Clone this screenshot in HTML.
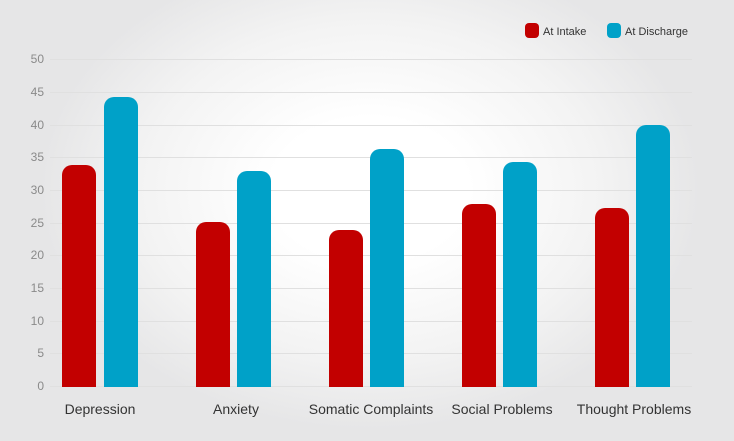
<!DOCTYPE html>
<html><head><meta charset="utf-8"><style>
body{margin:0;}
#c{width:734px;height:441px;position:relative;overflow:hidden;
background:radial-gradient(ellipse 330px 240px at 370px 190px,#fff 30%,#f3f3f3 70%,#e6e6e7 100%);
font-family:"Liberation Sans",sans-serif;}
</style></head><body><div id="c">
<svg width="734" height="441" style="position:absolute;left:0;top:0">
<g stroke="#e0e0e0" stroke-width="1">
<line x1="50" x2="692" y1="59.5" y2="59.5"/><line x1="50" x2="692" y1="92.5" y2="92.5"/>
<line x1="50" x2="692" y1="125.5" y2="125.5"/><line x1="50" x2="692" y1="157.5" y2="157.5"/>
<line x1="50" x2="692" y1="190.5" y2="190.5"/><line x1="50" x2="692" y1="223.5" y2="223.5"/>
<line x1="50" x2="692" y1="255.5" y2="255.5"/><line x1="50" x2="692" y1="288.5" y2="288.5"/>
<line x1="50" x2="692" y1="321.5" y2="321.5"/><line x1="50" x2="692" y1="353.5" y2="353.5"/>
<line x1="50" x2="692" y1="386.5" y2="386.5"/>
</g>
<g font-size="12" fill="#8a8a8a" text-anchor="end">
<text x="44" y="63">50</text><text x="44" y="96">45</text><text x="44" y="129">40</text>
<text x="44" y="161">35</text><text x="44" y="194">30</text><text x="44" y="227">25</text>
<text x="44" y="259">20</text><text x="44" y="292">15</text><text x="44" y="325">10</text>
<text x="44" y="357">5</text><text x="44" y="390">0</text>
</g>
<g fill="#c20000">
<path d="M62 387V175a10 10 0 0 1 10-10h14a10 10 0 0 1 10 10V387z"/>
<path d="M196 387V232a10 10 0 0 1 10-10h14a10 10 0 0 1 10 10V387z"/>
<path d="M329 387V240a10 10 0 0 1 10-10h14a10 10 0 0 1 10 10V387z"/>
<path d="M462 387V214a10 10 0 0 1 10-10h14a10 10 0 0 1 10 10V387z"/>
<path d="M595 387V218a10 10 0 0 1 10-10h14a10 10 0 0 1 10 10V387z"/>
<rect x="525" y="23" width="14" height="15" rx="4"/>
</g>
<g fill="#00a1c8">
<path d="M104 387V107a10 10 0 0 1 10-10h14a10 10 0 0 1 10 10V387z"/>
<path d="M237 387V181a10 10 0 0 1 10-10h14a10 10 0 0 1 10 10V387z"/>
<path d="M370 387V159a10 10 0 0 1 10-10h14a10 10 0 0 1 10 10V387z"/>
<path d="M503 387V172a10 10 0 0 1 10-10h14a10 10 0 0 1 10 10V387z"/>
<path d="M636 387V135a10 10 0 0 1 10-10h14a10 10 0 0 1 10 10V387z"/>
<rect x="607" y="23" width="14" height="15" rx="4"/>
</g>
<g font-size="11" fill="#333">
<text x="543" y="35">At Intake</text><text x="625" y="35">At Discharge</text>
</g>
<g font-size="14" fill="#333" text-anchor="middle">
<text x="100" y="414">Depression</text><text x="236" y="414">Anxiety</text>
<text x="371" y="414">Somatic Complaints</text><text x="502" y="414">Social Problems</text>
<text x="634" y="414">Thought Problems</text>
</g>
</svg></div></body></html>
